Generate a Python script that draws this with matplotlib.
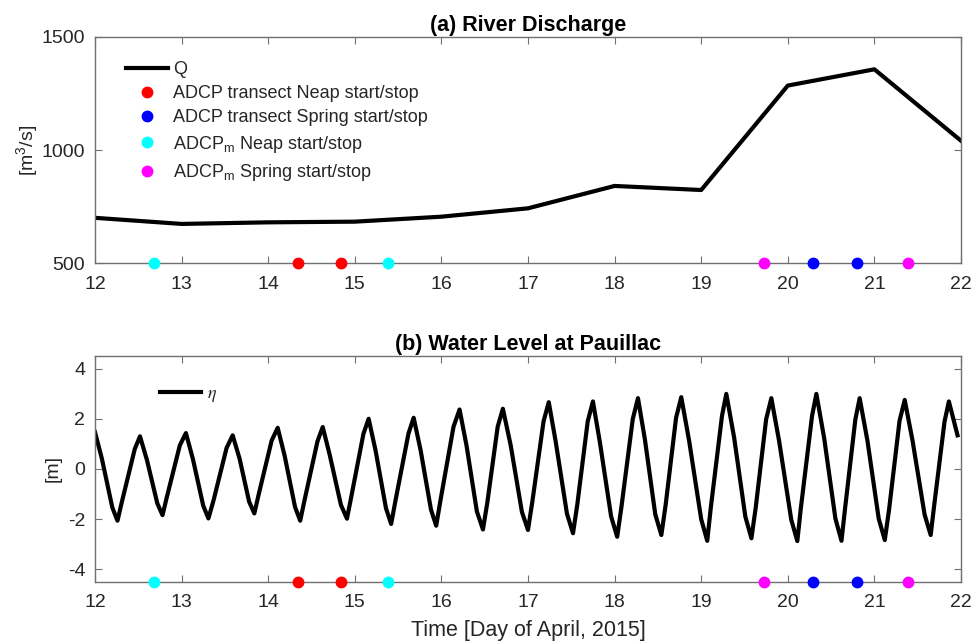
import matplotlib
matplotlib.use('Agg')
import matplotlib.pyplot as plt

plt.rcParams['font.family'] = ['Liberation Sans', 'DejaVu Sans']
plt.rcParams['mathtext.fontset'] = 'custom'
plt.rcParams['mathtext.rm'] = 'Liberation Sans'
plt.rcParams['mathtext.it'] = 'Liberation Sans:italic'
plt.rcParams['axes.unicode_minus'] = False

# River discharge, daily (m3/s)
q_days = [12, 13, 14, 15, 16, 17, 18, 19, 20, 21, 22]
q_vals = [700, 673, 680, 683, 705, 742, 841, 823, 1285, 1357, 1041]

# Water level at Pauillac (m)
wl_days = [12.00, 12.08, 12.20, 12.26, 12.31, 12.46,
           12.52, 12.60, 12.72, 12.78, 12.83, 12.98,
           13.05, 13.13, 13.25, 13.31, 13.37, 13.52,
           13.59, 13.67, 13.78, 13.84, 13.89, 14.04,
           14.11, 14.19, 14.31, 14.37, 14.42, 14.57,
           14.63, 14.71, 14.84, 14.91, 14.96, 15.10,
           15.16, 15.24, 15.36, 15.42, 15.47, 15.62,
           15.68, 15.76, 15.88, 15.94, 15.99, 16.14,
           16.21, 16.29, 16.41, 16.48, 16.53, 16.65,
           16.71, 16.80, 16.93, 17.00, 17.05, 17.18,
           17.24, 17.32, 17.45, 17.52, 17.57, 17.69,
           17.75, 17.83, 17.96, 18.03, 18.08, 18.21,
           18.27, 18.35, 18.47, 18.54, 18.59, 18.71,
           18.77, 18.86, 19.00, 19.07, 19.11, 19.24,
           19.29, 19.38, 19.51, 19.58, 19.63, 19.75,
           19.81, 19.90, 20.04, 20.11, 20.15, 20.28,
           20.33, 20.42, 20.55, 20.62, 20.66, 20.78,
           20.83, 20.92, 21.05, 21.12, 21.17, 21.29,
           21.35, 21.44, 21.58, 21.65, 21.69, 21.81,
           21.86, 21.96]
wl_vals = [1.47, 0.41, -1.53, -2.06, -1.32, 0.80,
           1.30, 0.36, -1.37, -1.84, -1.12, 0.94,
           1.43, 0.41, -1.46, -1.97, -1.24, 0.84,
           1.34, 0.41, -1.30, -1.77, -1.02, 1.13,
           1.64, 0.53, -1.51, -2.06, -1.24, 1.11,
           1.67, 0.57, -1.43, -1.98, -1.10, 1.40,
           2.00, 0.74, -1.56, -2.19, -1.26, 1.41,
           2.04, 0.75, -1.62, -2.26, -1.24, 1.68,
           2.37, 0.94, -1.69, -2.41, -1.35, 1.68,
           2.40, 0.95, -1.71, -2.43, -1.31, 1.90,
           2.66, 1.09, -1.78, -2.56, -1.40, 1.90,
           2.69, 1.07, -1.89, -2.70, -1.49, 1.99,
           2.82, 1.18, -1.81, -2.63, -1.42, 2.04,
           2.86, 1.14, -2.00, -2.86, -1.57, 2.11,
           2.99, 1.26, -1.90, -2.76, -1.53, 1.98,
           2.82, 1.11, -2.02, -2.87, -1.58, 2.11,
           2.99, 1.23, -1.98, -2.86, -1.61, 1.97,
           2.82, 1.12, -1.98, -2.83, -1.60, 1.91,
           2.75, 1.14, -1.82, -2.63, -1.46, 1.89,
           2.69, 1.34]

# start/stop times of the surveys
adcp_neap = [14.35, 14.84]
adcp_spring = [20.29, 20.80]
adcpm_neap = [12.68, 15.38]
adcpm_spring = [19.73, 21.39]

text_col = '#262626'
spine_col = '#707070'

fig = plt.figure(figsize=(9.71, 6.42), dpi=100)
ax1 = fig.add_axes([0.0978, 0.5903, 0.8919, 0.3521])
ax2 = fig.add_axes([0.0978, 0.0935, 0.8919, 0.3520])

ms = 7.5
lw = 3

def mark_surveys(ax, yb):
    ax.plot(adcp_neap, [yb] * 2, 'o', color='#ff0000', ms=ms, clip_on=False, zorder=5,
            label='ADCP transect Neap start/stop')
    ax.plot(adcp_spring, [yb] * 2, 'o', color='#0000ff', ms=ms, clip_on=False, zorder=5,
            label='ADCP transect Spring start/stop')
    ax.plot(adcpm_neap, [yb] * 2, 'o', color='#00ffff', ms=ms, clip_on=False, zorder=5,
            label=r'ADCP$_\mathrm{m}$ Neap start/stop')
    ax.plot(adcpm_spring, [yb] * 2, 'o', color='#ff00ff', ms=ms, clip_on=False, zorder=5,
            label=r'ADCP$_\mathrm{m}$ Spring start/stop')

# (a) discharge
ax1.plot(q_days, q_vals, color='k', lw=lw, label='Q')
mark_surveys(ax1, 500)
ax1.set_xlim(12, 22)
ax1.set_ylim(500, 1500)
ax1.set_yticks([500, 1000, 1500])
ax1.set_ylabel('[m$^3$/s]', fontsize=14, color=text_col)
ax1.yaxis.set_label_coords(-0.063, 0.5)
ax1.set_title('(a) River Discharge', fontsize=15.5, fontweight='bold', pad=4)
leg1 = ax1.legend(loc='upper left', bbox_to_anchor=(0.036, 0.894), frameon=False,
                  fontsize=13, handlelength=2.3, handletextpad=0.3, labelspacing=0.4,
                  borderaxespad=0, borderpad=0)
for t in leg1.get_texts():
    t.set_color(text_col)

# (b) water level
ax2.plot(wl_days, wl_vals, color='k', lw=lw, label=r'$\eta$')
ax2.set_xlim(12, 22)
ax2.set_ylim(-4.5, 4.5)
ax2.set_yticks([-4, -2, 0, 2, 4])
ax2.set_ylabel('[m]', fontsize=14, color=text_col)
ax2.yaxis.set_label_coords(-0.038, 0.5)
ax2.set_title('(b) Water Level at Pauillac', fontsize=15.5, fontweight='bold', pad=4)
ax2.set_xlabel('Time [Day of April, 2015]', fontsize=15.5, color=text_col, labelpad=6)
leg2 = ax2.legend(loc='upper left', bbox_to_anchor=(0.075, 0.872), frameon=False,
                  fontsize=13, handlelength=2.3, handletextpad=0.3,
                  borderaxespad=0, borderpad=0)
for t in leg2.get_texts():
    t.set_math_fontfamily('stix')
    t.set_color(text_col)
mark_surveys(ax2, -4.5)

for ax in (ax1, ax2):
    ax.set_xticks(range(12, 23))
    ax.tick_params(direction='in', top=True, right=True, length=5, width=0.8,
                   color=spine_col, labelsize=14, labelcolor=text_col)
    ax.tick_params(axis='x', pad=9)
    ax.tick_params(axis='y', pad=7)
    for s in ax.spines.values():
        s.set_color(spine_col)
        s.set_linewidth(1)

plt.savefig('out.png', dpi=100)
